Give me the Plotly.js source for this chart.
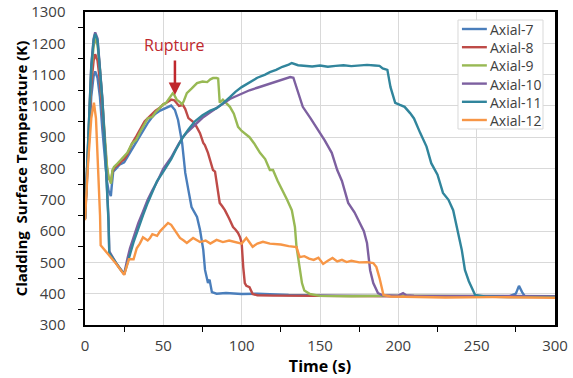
<!DOCTYPE html>
<html>
<head>
<meta charset="utf-8">
<script src="https://cdn.plot.ly/plotly-3.0.1.min.js"></script>
<style>html,body{margin:0;padding:0;background:#fff}#chart{width:573px;height:378px}</style>
</head>
<body>
<div id="chart"></div>
<script>
const seriesNames = ["Axial-7","Axial-8","Axial-9","Axial-10","Axial-11","Axial-12"];

const t7 = [0,2,4,5.5,6.5,8,9.5,11,12.5,14,15,16,16.5,17,18,20,22,25,28,30,33,35,38,40,43,45,48,50,52,54,55,57.4,59.4,62,64,66,68,71.5,73.4,75.5,76.6,78.5,79.5,81,84,90,100,110,130,160,200,250,270,275,277,279,281,290,300];
const T7 = [640,850,1030,1095,1110,1090,1030,930,840,760,730,715,712,740,790,800,812,820,845,865,890,905,930,945,965,975,985,990,996,1000,1001,987,955,882,786,731,677,645,604,540,476,434,445,405,400,402,399,400,396,394,393,390,390,400,425,405,390,392,390];

const t8 = [0,2,4,5.5,6.5,8,9.5,11,12.5,14,15,16,16.6,17.5,18.5,20,22,23,25,27,30,33,35,38,40,43,45,48,50,52,55,57,58.5,60,62.5,64,66,69,71,73.4,75.5,76.5,78.5,80,81.7,83,85,86,87.5,89.3,92,94.5,96,97.7,99,100,101,102,103,105,107,110,120,140,160,200,250,300];
const T8 = [640,870,1070,1145,1165,1145,1080,990,880,800,770,760,758,790,800,808,815,822,830,845,880,905,925,950,960,975,985,995,1005,1010,1020,1018,1010,1000,1003,990,961,949,935,913,882,875,850,820,795,790,731,690,680,667,640,613,605,594,580,562,485,434,425,421,399,395,394,393,394,392,391,390];

const t9 = [0,2,4,5.5,6.5,8,9.5,11,12.5,14,15,16,16.6,17.5,18.5,20,21,23,25,27,30,32.6,35,38,40,43,45,48,50,51.6,53,55,56,57,58.5,60.6,62,63,65,68,71.5,75,78,80,81.7,84,85,86,88,92.5,95,97.7,100,105,108,111.7,115,118,120,123,126,129,132,134,135,137,138.5,140,143.6,150,170,200,250,300];
const T9 = [640,890,1110,1190,1215,1195,1120,1020,900,810,775,755,752,795,805,812,817,830,837,850,880,891,915,945,960,965,980,995,1005,1009,1020,1035,1040,1035,1020,1012,1005,1015,1041,1055,1073,1078,1076,1085,1089,1089,1087,1010,1020,997,975,933,920,900,880,850,830,795,795,760,731,700,667,613,550,485,434,410,399,393,392,394,392,391];

const t10 = [0,2,4,5.5,6.5,8,9.5,11,12.5,14,15,15.5,18,20,22,25,27,28.7,31,34,37,40,43,46.6,50,55,60,62.5,65,70,75,80,84,88,92.5,96,100,105,110,115,120,125,129,131,133,136,139,144,149,153,157.5,161,164,168,172,175.5,178,180,182,184,185.5,187,190,200,203,205,210,250,300];
const T10 = [640,900,1130,1215,1235,1215,1130,1030,900,760,640,535,512,497,483,463,510,545,580,625,662,700,730,763,800,835,880,900,915,940,962,980,993,1005,1022,1030,1040,1050,1058,1066,1073,1080,1088,1092,1090,1045,997,960,923,890,850,795,760,690,660,626,600,562,475,434,420,402,395,394,402,395,394,393,392];

const t11 = [0,2,4,5.5,6.5,8,9.5,11,12.5,14,15,15.5,18,20,22,25,27,29,31,34,37,40,43,46,50,55,58,62.5,66,70,75,80,84,88,92.5,96,100,105,110,115,118,122,126,130,132,136,140,145,150,155,160,165,170,175,180,185,188,190,193,195,198,201,204,207.5,210,214,218,221,225,228.5,232,235,238,240.5,242.5,245,249,255,270,300];
const T11 = [640,895,1125,1210,1230,1210,1125,1025,895,755,630,530,510,495,482,462,500,530,565,610,650,690,725,760,790,830,860,900,925,950,970,985,993,1008,1028,1045,1060,1075,1090,1100,1108,1115,1125,1132,1137,1130,1128,1126,1129,1125,1128,1130,1127,1130,1131,1129,1128,1120,1115,1060,1010,1003,997,977,960,913,870,817,780,722,700,667,603,540,476,440,396,391,389,390];

const t12 = [0,2,4,5.7,7,8,9.6,10,15,20,25,27,28,31,33,35,37,40,41.5,43,46,48,50,53,55,57,60.6,63,65,69,73.4,77,80,84,88,92,97,100,103,107,110,113.6,118,125,130,135,137,140,143,146,149,152,155,158,161,164,167,170,175,180,184,186,188,189.5,190.5,195,210,230,260,300];
const T12 = [635,820,960,1010,960,850,650,555,525,495,460,490,510,510,545,560,580,570,578,590,585,600,610,626,620,605,578,570,562,578,565,570,560,572,565,570,565,560,578,550,560,566,560,557,552,549,517,520,512,508,515,495,505,514,503,508,501,505,500,501,498,485,450,412,396,391,390,388,389,387,388];

const xs = [t7,t8,t9,t10,t11,t12];
const ys = [T7,T8,T9,T10,T11,T12];
const colors = ["#4a7ebb","#be4b48","#98b954","#7d60a0","#31859c","#f79646"];

const traces = seriesNames.map((n,i)=>({
  x: xs[i], y: ys[i], name: n, type: "scatter", mode: "lines",
  line: {color: colors[i], width: 2.4}, showlegend: false
}));

const font = "Open Sans, Liberation Sans, sans-serif";

// compact legend drawn in paper coordinates: box, line samples, one multi-line label block
const legFont = 14;
const plotH = 313;
const rowPx = 1.3 * legFont;            // plotly line spacing
const firstRowPx = 29;                  // px from top of plot area
const rowStep = rowPx / plotH;
const rowTop = 1 - (firstRowPx - 12) / plotH;
const shapes = [{type: "rect", xref: "paper", yref: "paper", x0: 0.7936, x1: 0.9745,
                 y0: rowTop - 5 * rowStep - 9 / plotH, y1: rowTop + 9 / plotH,
                 line: {color: "#d9d9d9", width: 1}, fillcolor: "#fff", layer: "above"}];
seriesNames.forEach((n,i)=>{
  const yy = rowTop - i*rowStep;
  shapes.push({type: "line", xref: "paper", yref: "paper", x0: 0.802, x1: 0.855, y0: yy, y1: yy,
               line: {color: colors[i], width: 2.4}, layer: "above"});
});
const annotations = [{
  xref: "paper", yref: "paper", x: 0.857, y: rowTop - 2.5 * rowStep, xanchor: "left", yanchor: "middle",
  align: "left", text: seriesNames.join("<br>"), showarrow: false,
  font: {family: font, size: legFont, color: "#404040"}
}];
annotations.push({
  x: 57.4, y: 1035, xref: "x", yref: "y", ax: 57.4, ay: 1150, axref: "x", ayref: "y",
  showarrow: true, arrowhead: 2, arrowsize: 1, arrowwidth: 2.5, arrowcolor: "#c0282d", text: ""
});
annotations.push({
  x: 57.4, y: 1194, xref: "x", yref: "y", showarrow: false, text: "Rupture",
  font: {family: font, size: 16, color: "#c0282d"}
});

const layout = {
  width: 573, height: 378,
  margin: {l: 85, r: 18, t: 12, b: 53},
  paper_bgcolor: "#fff", plot_bgcolor: "#fff",
  font: {family: font, size: 15, color: "#404040"},
  showlegend: false,
  xaxis: {range: [0, 300], dtick: 50, tick0: 0, showgrid: true, gridcolor: "#d9d9d9", gridwidth: 1,
          zeroline: false, showline: true, linecolor: "#000", linewidth: 2, mirror: true,
          ticks: "", ticklabelstandoff: 6, tickfont: {family: font, size: 15, color: "#404040"},
          minor: {dtick: 25, ticks: "outside", ticklen: 5, tickcolor: "#000", showgrid: false},
          title: {text: "<b>Time (s)</b>", font: {family: font, size: 16, color: "#000"}, standoff: 6}},
  yaxis: {range: [300, 1300], dtick: 100, tick0: 300, showgrid: true, gridcolor: "#d9d9d9", gridwidth: 1,
          zeroline: false, showline: true, linecolor: "#000", linewidth: 2.5, mirror: true,
          ticks: "", ticklabelstandoff: 14, tickfont: {family: font, size: 15, color: "#404040"},
          minor: {dtick: 50, ticks: "outside", ticklen: 5, tickcolor: "#000", showgrid: false},
          title: {text: "<b>Cladding  Surface Temperature (K)</b>", font: {family: font, size: 15, color: "#000"}, standoff: 0}},
  shapes: shapes,
  annotations: annotations
};

Plotly.newPlot("chart", traces, layout, {displayModeBar: false, staticPlot: true});
</script>
</body>
</html>
